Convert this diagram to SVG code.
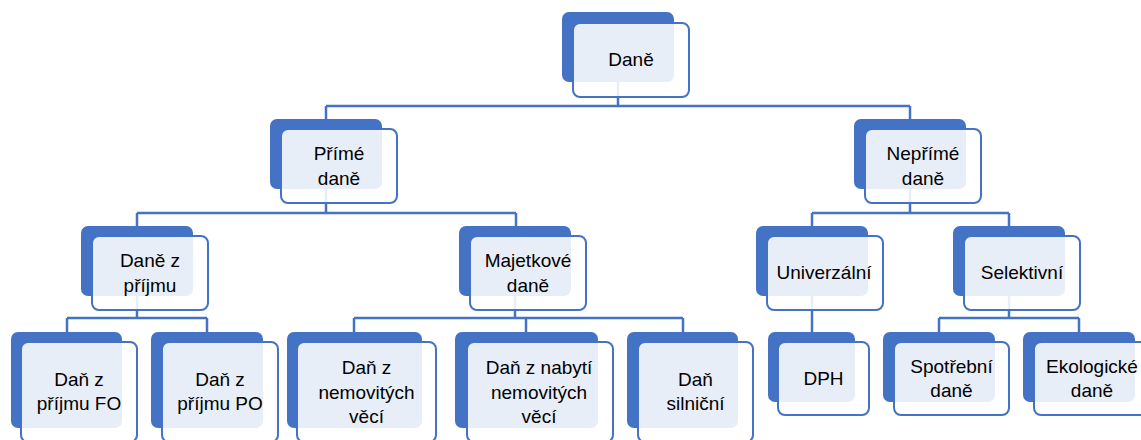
<svg xmlns="http://www.w3.org/2000/svg" width="1141" height="440" viewBox="0 0 1141 440">
<style>
.bk{fill:#4472C4;}
.fr{fill:#ffffff;fill-opacity:0.88;stroke:#4472C4;stroke-width:2;}
.cn{fill:none;stroke:#4472C4;stroke-width:2.5;}
text{font-family:"Liberation Sans",Arial,sans-serif;font-size:19px;fill:#000;text-anchor:middle;}
</style>
<rect width="1141" height="440" fill="#ffffff"/>
<g id="connectors">
<path class="cn" d="M618,82V106M326,106H910M326,106V119M910,106V119"/>
<path class="cn" d="M326,189V213M137,213H516M137,213V226M516,213V226"/>
<path class="cn" d="M910,189V213M812,213H1009M812,213V226M1009,213V226"/>
<path class="cn" d="M137,296V318M67,318H207M67,318V332M207,318V332"/>
<path class="cn" d="M515,296V318M354,318H683M354,318V332M526,318V332M683,318V332"/>
<path class="cn" d="M812,296V332"/>
<path class="cn" d="M1009,296V318M939,318H1079M939,318V332M1079,318V332"/>
</g>
<g id="n-dane">
<rect class="bk" x="562" y="12" width="112" height="70" rx="7"/>
<rect class="fr" x="573" y="23" width="116" height="74" rx="7"/>
<text x="631" y="66">Daně</text>
</g>
<g id="n-prime">
<rect class="bk" x="270" y="119" width="112" height="70" rx="7"/>
<rect class="fr" x="281" y="129" width="116" height="74" rx="7"/>
<text x="339" y="160">Přímé</text>
<text x="339" y="184.5">daně</text>
</g>
<g id="n-neprime">
<rect class="bk" x="854" y="119" width="112" height="70" rx="7"/>
<rect class="fr" x="865" y="129" width="116" height="74" rx="7"/>
<text x="923" y="160">Nepřímé</text>
<text x="923" y="184.5">daně</text>
</g>
<g id="n-prijem">
<rect class="bk" x="81" y="226" width="112" height="70" rx="7"/>
<rect class="fr" x="92" y="236" width="116" height="74" rx="7"/>
<text x="150" y="267">Daně z</text>
<text x="150" y="291.5">příjmu</text>
</g>
<g id="n-majetkove">
<rect class="bk" x="459" y="226" width="112" height="70" rx="7"/>
<rect class="fr" x="470" y="236" width="116" height="74" rx="7"/>
<text x="528" y="267">Majetkové</text>
<text x="528" y="291.5">daně</text>
</g>
<g id="n-univerzalni">
<rect class="bk" x="756" y="226" width="112" height="70" rx="7"/>
<rect class="fr" x="767" y="236" width="116" height="74" rx="7"/>
<text x="824" y="279">Univerzální</text>
</g>
<g id="n-selektivni">
<rect class="bk" x="953" y="226" width="112" height="70" rx="7"/>
<rect class="fr" x="964" y="236" width="116" height="74" rx="7"/>
<text x="1022" y="279">Selektivní</text>
</g>
<g id="n-fo">
<rect class="bk" x="11" y="332" width="111" height="96" rx="7"/>
<rect class="fr" x="21" y="342" width="116" height="100" rx="7"/>
<text x="79" y="386">Daň z</text>
<text x="79" y="410">příjmu FO</text>
</g>
<g id="n-po">
<rect class="bk" x="151" y="332" width="112" height="96" rx="7"/>
<rect class="fr" x="162" y="342" width="116" height="100" rx="7"/>
<text x="220" y="386">Daň z</text>
<text x="220" y="410">příjmu PO</text>
</g>
<g id="n-nemovitosti">
<rect class="bk" x="287" y="332" width="135" height="96" rx="7"/>
<rect class="fr" x="297" y="342" width="139" height="100" rx="7"/>
<text x="366.5" y="374">Daň z</text>
<text x="366.5" y="398.5">nemovitých</text>
<text x="366.5" y="423">věcí</text>
</g>
<g id="n-nabyti">
<rect class="bk" x="455" y="332" width="143" height="96" rx="7"/>
<rect class="fr" x="467" y="342" width="146" height="100" rx="7"/>
<text x="539" y="374">Daň z nabytí</text>
<text x="539" y="398.5">nemovitých</text>
<text x="539" y="423">věcí</text>
</g>
<g id="n-silnicni">
<rect class="bk" x="627" y="332" width="111" height="96" rx="7"/>
<rect class="fr" x="638" y="342" width="115" height="100" rx="7"/>
<text x="695.5" y="386">Daň</text>
<text x="695.5" y="410">silniční</text>
</g>
<g id="n-dph">
<rect class="bk" x="768" y="332" width="87" height="70" rx="7"/>
<rect class="fr" x="778" y="342" width="91" height="73" rx="7"/>
<text x="823.5" y="385">DPH</text>
</g>
<g id="n-spotrebni">
<rect class="bk" x="883" y="332" width="112" height="70" rx="7"/>
<rect class="fr" x="894" y="342" width="115" height="73" rx="7"/>
<text x="951.5" y="372.5">Spotřební</text>
<text x="951.5" y="397">daně</text>
</g>
<g id="n-ekologicke">
<rect class="bk" x="1023" y="332" width="112" height="70" rx="7"/>
<rect class="fr" x="1034" y="342" width="116" height="73" rx="7"/>
<text x="1092" y="372.5">Ekologické</text>
<text x="1092" y="397">daně</text>
</g>
</svg>
